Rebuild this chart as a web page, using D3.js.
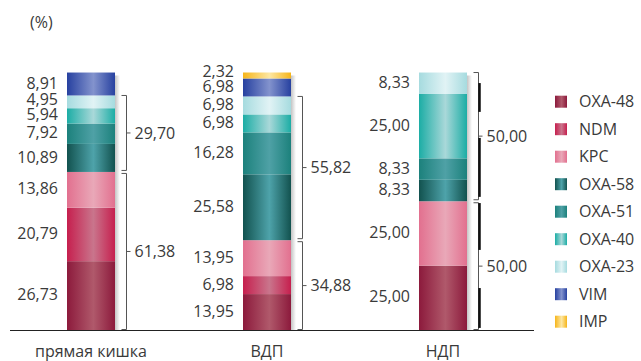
<!DOCTYPE html>
<html>
<head>
<meta charset="utf-8">
<script src="https://cdn.jsdelivr.net/npm/d3@7"></script>
<style>
  body { margin: 0; background: #fff; }
  text { font-family: "Open Sans", sans-serif; fill: #3a3a3a; }
</style>
</head>
<body>
<svg width="641" height="361"></svg>
<script>
// data
const categories = ['прямая кишка', 'ВДП', 'НДП'];
const genes = ['OXA-48', 'NDM', 'KPC', 'OXA-58', 'OXA-51', 'OXA-40', 'OXA-23', 'VIM', 'IMP'];
const rectum = [26.73, 20.79, 13.86, 10.89, 7.92, 5.94, 4.95, 8.91, 0];
const vdp    = [13.95, 6.98, 13.95, 25.58, 16.28, 6.98, 6.98, 6.98, 2.32];
const ndp    = [25.00, 0, 25.00, 8.33, 8.33, 25.00, 8.33, 0, 0];
const bracketLow  = [61.38, 34.88, 50.00];   // OXA-48 + NDM + KPC
const bracketHigh = [29.70, 55.82, 50.00];   // OXA-58 .. OXA-23

// gradient edge / centre colours for each gene
const edgeColors   = ['#8c1a3c', '#c61f4e', '#e2708f', '#12524f', '#1c817c', '#1cada5', '#a6dbdf', '#2741a0', '#f6b51a'];
const centerColors = ['#b0596b', '#c9758c', '#e9a8b8', '#4ea3aa', '#4fa1a6', '#a9d8d9', '#e1f3f5', '#8393cd', '#fde7a3'];

const svg = d3.select('svg');
const defs = svg.append('defs');

genes.forEach((g, i) => {
  const lg = defs.append('linearGradient').attr('id', 'g' + i)
    .attr('x1', 0).attr('x2', 1).attr('y1', 0).attr('y2', 0);
  lg.append('stop').attr('offset', 0).attr('stop-color', edgeColors[i]);
  lg.append('stop').attr('offset', 0.55).attr('stop-color', centerColors[i]);
  lg.append('stop').attr('offset', 1).attr('stop-color', edgeColors[i]);
});
const sh = defs.append('linearGradient').attr('id', 'shadow')
  .attr('x1', 0).attr('x2', 1).attr('y1', 0).attr('y2', 0);
sh.append('stop').attr('offset', 0).attr('stop-color', '#c4c4c4');
sh.append('stop').attr('offset', 1).attr('stop-color', '#ffffff');

const table = [rectum, vdp, ndp].map((vals, i) => {
  const row = { cat: categories[i] };
  genes.forEach((g, j) => row[g] = vals[j]);
  return row;
});
const series = d3.stack().keys(genes)(table);

const y = d3.scaleLinear().domain([0, 100]).range([330, 72.5]);
const x = d3.scalePoint().domain(categories).range([91, 443]);
const barW = 48;

const ru = d3.formatLocale({ decimal: ',', thousands: ' ', grouping: [3], currency: ['', ''] });
const fmt = ru.format('.2f');

// shadow strip right of every bar
svg.append('g').selectAll('rect').data(categories).join('rect')
  .attr('x', d => x(d) + barW / 2)
  .attr('y', y(100) + 3)
  .attr('width', 5)
  .attr('height', y(0) - y(100) - 3)
  .attr('fill', 'url(#shadow)');

// stacked segments
svg.append('g').selectAll('g').data(series).join('g')
  .attr('fill', (d, i) => `url(#g${i})`)
  .selectAll('rect').data(d => d.filter(s => s[1] > s[0])).join('rect')
    .attr('x', d => x(d.data.cat) - barW / 2)
    .attr('y', d => y(d[1]))
    .attr('width', barW)
    .attr('height', d => y(d[0]) - y(d[1]));

// value labels at the left of the bars, pushed apart from the bottom up
categories.forEach((cat, ci) => {
  const segs = series.map(s => s[ci]).filter(s => s[1] > s[0]);
  const ys = segs.map(s => (y(s[0]) + y(s[1])) / 2);
  for (let i = 1; i < ys.length; i++) ys[i] = Math.min(ys[i], ys[i - 1] - 15.5);
  svg.append('g').selectAll('text').data(segs).join('text')
    .attr('x', x(cat) - barW / 2 - 9)
    .attr('y', (d, i) => ys[i] - 1)
    .attr('dy', '0.35em')
    .attr('text-anchor', 'end')
    .attr('font-size', 16)
    .text(d => fmt(d[1] - d[0]));
});

// brackets
function bracket(cat, lo, hi, label, padLo, padHi) {
  const bx = x(cat) + barW / 2 + 11.5;
  const y0 = y(lo) - padLo, y1 = y(hi) + padHi, ym = (y0 + y1) / 2;
  svg.append('path')
    .attr('d', `M${bx - 5},${y1}H${bx}V${y0}H${bx - 5}M${bx},${ym}H${bx + 4}`)
    .attr('fill', 'none').attr('stroke', '#555').attr('stroke-width', 1);
  svg.append('text')
    .attr('x', bx + 8).attr('y', ym).attr('dy', '0.35em')
    .attr('font-size', 16)
    .text(fmt(label));
  return bx;
}
categories.forEach((cat, i) => {
  const lowTop = d3.sum(table[i] ? genes.slice(0, 3).map(g => table[i][g]) : []);
  const highTop = d3.sum(genes.slice(0, 7).map(g => table[i][g]));
  bracket(cat, 0, lowTop, bracketLow[i], 0.5, 1.5);
  bracket(cat, lowTop, highTop, bracketHigh[i], 1.5, 0);
});

// heavy strokes running along the НДП brackets
const ndpStrokes = [[95.9, 84.7], [74.6, 51.7], [49.3, 31.1], [16.3, 0.8]];
const nx = x('НДП') + barW / 2 + 12.5;
svg.append('g').selectAll('line').data(ndpStrokes).join('line')
  .attr('x1', nx).attr('x2', nx)
  .attr('y1', d => y(d[0])).attr('y2', d => y(d[1]))
  .attr('stroke', '#111').attr('stroke-width', 2.5);

// baseline
svg.append('line')
  .attr('x1', 10).attr('x2', 534)
  .attr('y1', y(0) + 0.5).attr('y2', y(0) + 0.5)
  .attr('stroke', '#222').attr('stroke-width', 1);

// category labels
svg.append('g').selectAll('text').data(categories).join('text')
  .attr('x', d => x(d))
  .attr('y', 351).attr('dy', '0.35em')
  .attr('text-anchor', 'middle')
  .attr('font-size', 16)
  .text(d => d);

svg.append('text')
  .attr('x', 30).attr('y', 22).attr('dy', '0.35em')
  .attr('font-size', 16)
  .text('(%)');

// legend
const legend = svg.append('g').selectAll('g').data(genes).join('g')
  .attr('transform', (d, i) => `translate(555,${101.7 + i * 27.5})`);
legend.append('rect')
  .attr('x', 0).attr('y', -6).attr('width', 12).attr('height', 12)
  .attr('fill', (d, i) => `url(#g${i})`);
legend.append('text')
  .attr('x', 24).attr('dy', '0.35em')
  .attr('font-size', 16)
  .text(d => d);
</script>
</body>
</html>
